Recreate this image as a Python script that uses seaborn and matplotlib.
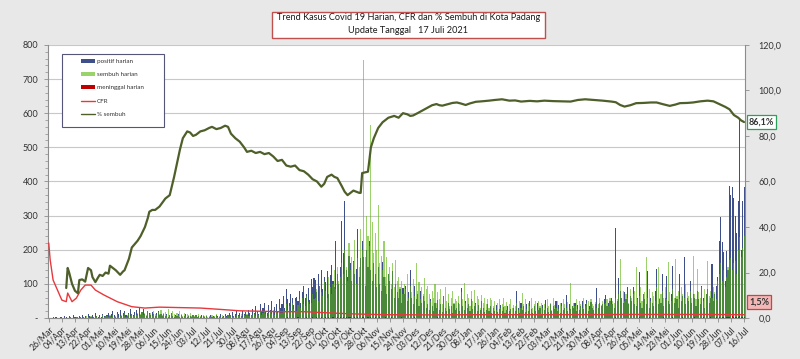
import numpy as np
import matplotlib
matplotlib.use("Agg")
import matplotlib.pyplot as plt
from matplotlib.patches import Patch, Rectangle
from matplotlib.lines import Line2D
from matplotlib.ticker import MultipleLocator
import seaborn as sns

# kasus positif harian, mulai 26/Mar/2020 (20 hari per baris)
positif = [
    0, 1, 0, 2, 0, 3, 1, 0, 4, 2, 0, 5, 3, 1, 6, 2, 0, 8, 3, 4,
    2, 6, 3, 10, 4, 7, 1, 12, 5, 3, 8, 2, 14, 6, 4, 9, 3, 11, 7, 5,
    8, 15, 6, 12, 20, 9, 4, 18, 11, 25, 7, 14, 22, 10, 5, 16, 28, 12, 9, 19,
    24, 13, 30, 8, 18, 27, 11, 6, 21, 15, 9, 17, 12, 5, 14, 20, 8, 11, 6, 13,
    7, 12, 4, 10, 15, 6, 3, 9, 5, 11, 2, 8, 4, 6, 13, 3, 7, 5, 2, 9,
    4, 8, 3, 6, 2, 10, 5, 3, 7, 1, 4, 9, 2, 6, 3, 8, 5, 2, 11, 4,
    6, 12, 5, 9, 14, 8, 18, 7, 11, 20, 9, 15, 6, 22, 12, 17, 8, 25, 14, 10,
    28, 15, 35, 20, 12, 40, 18, 30, 45, 22, 16, 38, 25, 50, 20, 33, 42, 18, 55, 30,
    40, 65, 30, 85, 55, 45, 70, 60, 38, 58, 62, 50, 80, 45, 75, 95, 60, 70, 88, 52,
    115, 90, 118, 112, 75, 130, 95, 140, 85, 120, 105, 138, 70, 125, 156, 110, 90, 226, 130, 100,
    150, 285, 190, 344, 140, 120, 183, 160, 110, 168, 130, 145, 262, 120, 175, 226, 180, 95, 200, 150,
    226, 140, 110, 160, 128, 90, 150, 100, 80, 165, 120, 95, 70, 128, 110, 85, 138, 60, 100, 75,
    60, 85, 45, 88, 70, 95, 50, 75, 142, 60, 40, 93, 55, 70, 35, 80, 45, 65, 50, 30,
    40, 25, 55, 35, 20, 45, 30, 54, 25, 40, 18, 64, 30, 22, 45, 28, 35, 15, 40, 25,
    30, 45, 20, 88, 35, 25, 50, 30, 40, 22, 55, 28, 35, 45, 20, 38, 25, 50, 30, 18,
    25, 40, 20, 35, 15, 30, 22, 38, 18, 28, 39, 20, 32, 15, 25, 35, 20, 28, 12, 30,
    20, 79, 30, 15, 45, 25, 35, 18, 40, 22, 50, 28, 15, 35, 20, 45, 25, 30, 12, 38,
    25, 54, 30, 18, 40, 22, 35, 28, 49, 20, 38, 15, 45, 25, 30, 69, 22, 40, 28, 35,
    30, 45, 20, 38, 25, 35, 50, 28, 40, 54, 22, 35, 48, 30, 25, 40, 88, 30, 45, 35,
    40, 55, 69, 35, 45, 50, 59, 40, 30, 265, 50, 118, 80, 60, 45, 75, 55, 90, 40, 65,
    50, 90, 40, 35, 60, 134, 45, 30, 70, 55, 40, 139, 30, 60, 45, 35, 80, 144, 40, 55,
    45, 129, 35, 60, 124, 50, 40, 70, 153, 45, 60, 55, 30, 129, 50, 65, 178, 40, 60, 50,
    110, 45, 70, 60, 35, 80, 55, 40, 95, 60, 30, 70, 85, 45, 60, 158, 50, 70, 95, 120,
    227, 296, 222, 193, 110, 197, 140, 388, 359, 383, 353, 300, 250, 344, 580, 200, 343, 383,
]

sembuh = [
    0, 0, 0, 0, 0, 0, 0, 0, 0, 0, 0, 0, 1, 0, 0, 2, 0, 1, 0, 3,
    2, 0, 4, 1, 3, 0, 5, 2, 1, 6, 0, 3, 2, 7, 1, 4, 0, 8, 2, 5,
    5, 3, 8, 2, 10, 4, 6, 12, 3, 7, 9, 5, 14, 4, 8, 11, 6, 13, 7, 10,
    9, 15, 7, 12, 18, 10, 14, 8, 20, 11, 16, 6, 22, 13, 9, 17, 12, 25, 8, 14,
    18, 10, 26, 8, 14, 20, 12, 6, 16, 9, 22, 11, 7, 15, 5, 12, 8, 14, 6, 10,
    5, 9, 4, 12, 6, 3, 8, 5, 10, 2, 7, 4, 9, 3, 6, 11, 4, 7, 2, 8,
    4, 6, 3, 8, 5, 10, 4, 7, 3, 9, 6, 5, 11, 4, 8, 6, 12, 5, 7, 9,
    8, 12, 6, 15, 10, 18, 9, 14, 20, 11, 7, 16, 22, 12, 25, 10, 18, 14, 28, 16,
    15, 30, 20, 40, 25, 35, 18, 45, 28, 50, 22, 38, 55, 30, 60, 42, 35, 65, 48, 40,
    45, 70, 55, 60, 85, 50, 95, 75, 65, 110, 80, 60, 120, 90, 70, 100, 140, 85, 150, 110,
    120, 160, 130, 200, 150, 110, 220, 140, 180, 165, 230, 100, 175, 150, 260, 200, 755, 180, 300, 240,
    210, 565, 280, 190, 250, 200, 330, 160, 183, 140, 226, 120, 180, 128, 150, 100, 160, 90, 170, 110,
    120, 90, 110, 70, 100, 85, 130, 60, 95, 75, 115, 65, 161, 80, 105, 55, 90, 70, 117, 85,
    95, 70, 50, 80, 60, 100, 45, 75, 55, 85, 40, 65, 90, 50, 70, 35, 60, 80, 45, 55,
    50, 65, 40, 75, 55, 103, 45, 70, 60, 35, 80, 50, 83, 40, 65, 55, 30, 68, 45, 60,
    40, 55, 30, 60, 54, 35, 50, 25, 45, 55, 30, 40, 60, 35, 48, 25, 42, 55, 30, 38,
    35, 45, 25, 50, 30, 74, 40, 55, 28, 45, 35, 60, 30, 42, 49, 25, 50, 35, 45, 30,
    40, 30, 55, 35, 45, 25, 60, 38, 30, 50, 28, 45, 35, 55, 40, 30, 48, 25, 103, 35,
    45, 35, 55, 28, 49, 40, 30, 60, 35, 45, 50, 28, 55, 40, 35, 48, 30, 42, 60, 38,
    50, 40, 45, 55, 35, 60, 40, 50, 45, 60, 55, 70, 172, 60, 80, 50, 70, 60, 45, 85,
    60, 70, 80, 149, 55, 65, 90, 50, 70, 75, 178, 60, 85, 50, 75, 65, 50, 90, 149, 60,
    70, 80, 60, 90, 55, 163, 75, 50, 85, 60, 173, 65, 80, 55, 90, 70, 60, 100, 75, 65,
    80, 60, 183, 70, 55, 144, 75, 60, 90, 50, 85, 70, 168, 65, 80, 60, 90, 75, 55, 110,
    130, 160, 110, 140, 90, 120, 150, 170, 177, 140, 160, 168, 130, 200, 236, 180, 206, 240,
]

meninggal = [
    0, 0, 0, 1, 0, 0, 1, 0, 0, 0, 1, 0, 0, 0, 1, 0, 0, 0, 0, 1,
    0, 0, 1, 0, 0, 0, 0, 1, 0, 0, 0, 0, 1, 0, 0, 0, 0, 0, 1, 0,
    0, 1, 0, 0, 0, 0, 1, 0, 0, 0, 0, 0, 1, 0, 0, 0, 1, 0, 0, 0,
    0, 0, 1, 0, 0, 0, 0, 0, 1, 0, 0, 0, 0, 0, 0, 1, 0, 0, 0, 0,
    0, 0, 0, 0, 1, 0, 0, 0, 0, 0, 0, 0, 0, 1, 0, 0, 0, 0, 0, 0,
    0, 0, 0, 0, 0, 0, 1, 0, 0, 0, 0, 0, 0, 0, 0, 0, 1, 0, 0, 0,
    0, 0, 0, 1, 0, 0, 0, 0, 0, 0, 1, 0, 0, 0, 0, 0, 0, 1, 0, 0,
    0, 1, 0, 0, 0, 1, 0, 0, 0, 1, 0, 0, 1, 0, 0, 0, 1, 0, 0, 1,
    1, 0, 1, 0, 2, 0, 1, 0, 0, 1, 0, 2, 0, 1, 0, 1, 0, 2, 0, 1,
    1, 2, 0, 1, 3, 1, 0, 2, 1, 0, 2, 1, 3, 0, 1, 2, 0, 1, 3, 1,
    2, 1, 3, 0, 2, 1, 2, 4, 1, 0, 3, 1, 2, 0, 1, 2, 3, 1, 0, 2,
    1, 2, 0, 1, 3, 1, 0, 2, 1, 0, 1, 2, 0, 1, 0, 2, 1, 0, 1, 0,
    1, 0, 2, 0, 1, 0, 1, 0, 0, 1, 0, 2, 0, 1, 0, 0, 1, 0, 1, 0,
    0, 1, 0, 0, 1, 0, 0, 2, 0, 1, 0, 0, 1, 0, 0, 1, 0, 0, 1, 0,
    0, 0, 1, 0, 0, 1, 0, 0, 0, 1, 0, 0, 1, 0, 0, 0, 1, 0, 0, 0,
    1, 0, 0, 0, 1, 0, 0, 1, 0, 0, 0, 1, 0, 0, 0, 1, 0, 0, 1, 0,
    0, 0, 1, 0, 0, 0, 1, 0, 0, 1, 0, 0, 0, 1, 0, 0, 0, 1, 0, 0,
    0, 1, 0, 0, 0, 1, 0, 0, 0, 0, 1, 0, 0, 1, 0, 0, 0, 0, 1, 0,
    0, 0, 1, 0, 0, 0, 0, 1, 0, 0, 0, 1, 0, 0, 0, 0, 1, 0, 0, 1,
    0, 1, 0, 0, 1, 0, 0, 1, 0, 2, 0, 1, 0, 0, 1, 0, 1, 0, 0, 1,
    0, 1, 0, 1, 0, 2, 0, 1, 0, 0, 1, 0, 2, 0, 1, 0, 0, 1, 0, 1,
    1, 0, 2, 0, 1, 0, 1, 0, 2, 0, 1, 0, 0, 1, 0, 2, 0, 1, 0, 1,
    1, 0, 1, 2, 0, 1, 0, 1, 0, 2, 1, 0, 1, 0, 2, 1, 0, 1, 2, 0,
    2, 1, 3, 2, 1, 4, 2, 3, 1, 5, 2, 3, 4, 2, 6, 3, 2, 4,
]

# garis % sembuh (hari ke-, persen)
sembuh_hari = [12, 13, 14, 16, 18, 20, 21, 23, 25, 27, 29, 30, 32, 34, 35, 37, 39, 41, 42, 44,
               46, 49, 51, 52, 55, 57, 59, 61, 63, 66, 68, 69, 71, 73, 76, 80, 83, 86, 88, 90,
               92, 95, 97, 99, 101, 104, 107, 110, 112, 115, 118, 121, 123, 125, 128, 131, 134, 136, 139, 142,
               145, 148, 151, 154, 157, 160, 163, 166, 169, 172, 175, 178, 181, 184, 187, 189, 191, 194, 196, 198,
               201, 203, 205, 207, 209, 211, 213, 214, 215, 217, 219, 221, 223, 226, 229, 233, 237, 240, 243, 246,
               248, 250, 253, 257, 260, 263, 266, 268, 270, 274, 277, 280, 283, 286, 289, 293, 297, 302, 306, 311,
               316, 320, 324, 330, 335, 340, 346, 352, 358, 363, 368, 374, 380, 386, 389, 392, 395, 399, 403, 408,
               413, 417, 421, 426, 430, 433, 438, 442, 447, 452, 456, 460, 464, 467, 470, 473, 475, 477]
sembuh_pct = [13.2, 22.0, 20.0, 15.0, 12.0, 10.9, 16.7, 17.0, 16.0, 22.0, 21.0, 18.0, 15.8, 18.0, 19.0, 18.5, 20.0, 19.5, 23.0, 22.0,
              21.0, 19.0, 20.5, 21.0, 26.0, 31.0, 32.5, 34.0, 36.0, 40.0, 44.0, 46.7, 47.5, 47.5, 49.0, 52.5, 54.0, 62.0, 68.0, 74.0,
              79.0, 82.0, 81.5, 80.0, 80.5, 82.0, 82.5, 83.5, 84.0, 83.0, 83.5, 84.5, 84.0, 81.0, 79.0, 77.5, 75.0, 73.0, 73.5, 72.5,
              73.0, 72.0, 72.5, 71.0, 69.0, 69.5, 67.0, 66.5, 67.0, 65.0, 64.5, 63.0, 61.0, 60.0, 57.7, 59.0, 62.0, 63.0, 62.0, 61.5,
              58.0, 55.5, 54.0, 55.0, 56.0, 55.5, 55.0, 55.0, 63.7, 64.0, 64.3, 75.0, 79.0, 83.5, 86.0, 88.0, 88.8, 88.0, 90.0, 89.5,
              88.8, 89.0, 90.0, 91.4, 92.5, 93.5, 94.0, 93.5, 93.3, 94.0, 94.5, 94.7, 94.2, 93.6, 94.3, 95.0, 95.2, 95.5, 95.8, 96.1,
              95.5, 95.6, 95.1, 95.4, 95.2, 95.5, 95.3, 95.2, 95.1, 95.8, 96.1, 95.8, 95.5, 95.1, 94.8, 93.6, 92.9, 93.5, 94.4, 94.5,
              94.7, 94.7, 94.0, 93.2, 93.8, 94.4, 94.5, 94.7, 95.2, 95.5, 95.2, 94.0, 92.8, 91.7, 89.2, 88.0, 86.8, 86.1]

# garis CFR (hari ke-, persen)
cfr_hari = [0, 1, 3, 6, 9, 12, 13, 16, 19, 22, 25, 29, 32, 38, 47, 57, 66, 76, 90, 104,
            118, 131, 145, 158, 175, 195, 210, 230, 260, 300, 350, 400, 450, 477]
cfr_pct = [33.0, 25.5, 16.7, 12.3, 7.9, 7.2, 11.0, 7.2, 8.8, 12.3, 14.5, 14.5, 12.3, 10.1, 7.2, 5.0, 4.4, 4.8, 4.6, 4.4,
           3.8, 3.2, 3.0, 2.8, 2.8, 2.2, 1.8, 1.5, 1.4, 1.5, 1.5, 1.6, 1.6, 1.5]

tick_labels = ["26/Mar", "04/Apr", "13/Apr", "22/Apr", "01/Mei", "10/Mei", "19/Mei", "28/Mei", "06/Jun",
               "15/Jun", "24/Jun", "03/Jul", "12/Jul", "21/Jul", "30/Jul", "08/Agu", "17/Agu", "26/Agu",
               "04/Sep", "13/Sep", "22/Sep", "01/Okt", "10/Okt", "19/Okt", "28/Okt", "06/Nov", "15/Nov",
               "24/Nov", "03/Des", "12/Des", "21/Des", "30/Des", "08/Jan", "17/Jan", "26/Jan", "04/Feb",
               "13/Feb", "22/Feb", "03/Mar", "12/Mar", "21/Mar", "30/Mar", "08/Apr", "17/Apr", "26/Apr",
               "05/Mei", "14/Mei", "23/Mei", "01/Jun", "10/Jun", "19/Jun", "28/Jun", "07/Jul", "16/Jul"]
tick_days = list(range(0, 9 * len(tick_labels), 9))

C_POS = "#3f4f8a"
C_SEMBUH = "#53b300"
C_MATI = "#c00000"
C_CFR = "#e8383d"
C_LINE = "#4e5f2a"

sns.set_style("white")
plt.rcParams['font.family'] = ['Lato', 'DejaVu Sans']

fig = plt.figure(figsize=(8, 3.59), dpi=100, facecolor="#e8e8e8")
ax = fig.add_axes([0.06, 0.114, 0.871, 0.761])
ax.set_facecolor("white")

bar_w = 0.75
sns.barplot(x=np.arange(len(positif)), y=positif, native_scale=True, color=C_POS, saturation=1,
            width=bar_w, linewidth=0, errorbar=None, ax=ax)
sns.barplot(x=np.arange(len(sembuh)), y=sembuh, native_scale=True, color=C_SEMBUH, saturation=1,
            width=bar_w, linewidth=0, alpha=0.58, errorbar=None, ax=ax)
sns.barplot(x=np.arange(len(meninggal)), y=meninggal, native_scale=True, color=C_MATI, saturation=1,
            width=bar_w, linewidth=0, errorbar=None, ax=ax)

ax.set_xlim(-0.5, len(positif) - 0.5)
ax.set_ylim(0, 800)
ax.set_yticks(range(0, 801, 100))
ax.set_yticklabels(["-"] + [str(v) for v in range(100, 801, 100)])
ax.yaxis.set_minor_locator(MultipleLocator(20))
ax.set_xticks(tick_days)
ax.set_xticklabels(tick_labels, rotation=45, ha="right", va="top", rotation_mode="anchor")
ax.set_xlabel("")
ax.set_ylabel("")
ax.set_axisbelow(True)
ax.yaxis.grid(True, color="#c8c8c8", lw=0.8)
ax.tick_params(axis="x", bottom=True, length=3, width=0.6, color="#8c8c8c", labelsize=6.2,
               labelcolor="#2a2a2a", pad=2)
ax.tick_params(axis="y", which="major", left=True, length=3, width=0.6, color="#8c8c8c",
               labelsize=6.5, labelcolor="#333333", pad=4)
ax.tick_params(axis="y", which="minor", left=True, length=2, width=0.5, color="#8c8c8c")
for s in ["top", "right"]:
    ax.spines[s].set_visible(False)
for s in ["left", "bottom"]:
    ax.spines[s].set_color("#8c8c8c")
    ax.spines[s].set_linewidth(0.8)

ax2 = ax.twinx()
sns.lineplot(x=cfr_hari, y=cfr_pct, color=C_CFR, lw=1.0, ax=ax2)
sns.lineplot(x=sembuh_hari, y=sembuh_pct, color=C_LINE, lw=1.6, ax=ax2)
ax2.set_ylim(0, 120)
ax2.set_yticks(range(0, 121, 20))
ax2.set_yticklabels([f"{v},0" for v in range(0, 121, 20)])
ax2.tick_params(axis="y", right=True, length=3, width=0.6, color="#8c8c8c", labelsize=6.5,
                labelcolor="#333333", pad=7)
for s in ["top", "left", "bottom"]:
    ax2.spines[s].set_visible(False)
ax2.spines["right"].set_color("#8c8c8c")
ax2.spines["right"].set_linewidth(0.8)

# legenda: bingkai digambar sendiri agar lebarnya sama dengan aslinya
ax2.add_patch(Rectangle((0.0201, 0.6996), 0.1463, 0.2674, transform=ax2.transAxes,
                        fc="white", ec="#55557a", lw=0.8, zorder=4))
handles = [
    Patch(facecolor=C_POS, edgecolor="none", label="positif harian"),
    Patch(facecolor="#9bd36b", edgecolor="none", label="sembuh harian"),
    Patch(facecolor=C_MATI, edgecolor="none", label="meninggal harian"),
    Line2D([], [], color=C_CFR, lw=1.0, label="CFR"),
    Line2D([], [], color=C_LINE, lw=1.0, label="% sembuh"),
]
leg = ax2.legend(handles=handles, loc="upper left", bbox_to_anchor=(0.047, 0.95), fontsize=4.5,
                 labelspacing=1.3, handlelength=2.3, handleheight=0.6, handletextpad=0.3,
                 borderpad=0, borderaxespad=0, frameon=False)
leg.set_zorder(5)
for t in leg.get_texts():
    t.set_color("#333333")

tr = ax2.get_yaxis_transform()
ax2.text(1.006, 86.1, "86,1%", transform=tr, ha="left", va="center", fontsize=6.5,
         fontweight="bold", color="#333333", clip_on=False,
         bbox=dict(boxstyle="square,pad=0.25", fc="white", ec="#2ca05a", lw=0.9))
ax2.text(1.006, 7.0, "1,5%", transform=tr, ha="left", va="center", fontsize=6.5,
         fontweight="bold", color="#333333", clip_on=False,
         bbox=dict(boxstyle="square,pad=0.25", fc="#f2b8b8", ec="#d04040", lw=0.9))

# kotak judul
fig.patches.append(Rectangle((0.34, 0.894), 0.341, 0.0724, transform=fig.transFigure,
                             fc="white", ec="#c0504d", lw=1.0))
fig.text(0.5105, 0.950, "Trend Kasus Covid 19 Harian, CFR dan % Sembuh di Kota Padang",
         ha="center", va="center", fontsize=6.6, color="#1a1a1a")
fig.text(0.5105, 0.914, "Update Tanggal   17 Juli 2021",
         ha="center", va="center", fontsize=6.6, color="#1a1a1a")

fig.savefig("out.png", dpi=100, facecolor=fig.get_facecolor())
